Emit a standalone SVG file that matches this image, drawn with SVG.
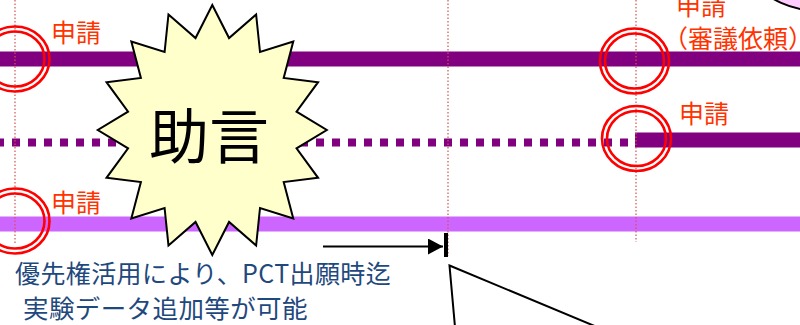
<svg xmlns="http://www.w3.org/2000/svg" width="800" height="325" viewBox="0 0 800 325">
<defs>
<style>
.vl{stroke:#D85050;stroke-width:1.2;stroke-dasharray:1.5 2;fill:none}
.ring{fill:none;stroke:#FF0000;stroke-width:2.6}
.lbl{font-family:"Noto Sans CJK JP","Noto Sans",sans-serif;font-size:25px;fill:#FF3300}
.note{font-family:"Noto Sans CJK JP","Noto Sans",sans-serif;font-size:25.5px;letter-spacing:0.4px;fill:#1F497D}
.bar{stroke-width:15;fill:none}
</style>
<marker id="ah" viewBox="0 0 15 16" refX="15" refY="8" markerWidth="15" markerHeight="16" markerUnits="userSpaceOnUse" orient="auto">
<path d="M0,0 L15,8 L0,16 Z" fill="#000"/>
</marker>
</defs>
<rect width="800" height="325" fill="#FFFFFF"/>
<ellipse id="pink-ellipse" cx="830" cy="-20" rx="70" ry="32" fill="#FFCCFF" stroke="#000" stroke-width="2"/>
<g id="timelines">
<line class="bar" x1="0" y1="59" x2="800" y2="59" stroke="#800080"/>
<line x1="-4" y1="142.5" x2="628" y2="142.5" stroke="#800080" stroke-width="8" stroke-dasharray="8 8"/>
<line class="bar" x1="635" y1="140" x2="800" y2="140" stroke="#800080"/>
<line class="bar" x1="0" y1="224" x2="800" y2="224" stroke="#CC66FF"/>
</g>
<g id="guides">
<line class="vl" x1="15" y1="0" x2="15" y2="245"/>
<line class="vl" x1="448" y1="0" x2="448" y2="256"/>
<line class="vl" x1="636" y1="0" x2="636" y2="242"/>
</g>
<g id="ring-1"><ellipse class="ring" cx="15" cy="59" rx="34.5" ry="32.5"/><ellipse class="ring" cx="15" cy="59" rx="29.5" ry="27.5"/></g>
<g id="ring-2"><ellipse class="ring" cx="15" cy="221" rx="34.5" ry="32.5"/><ellipse class="ring" cx="15" cy="221" rx="29.5" ry="27.5"/></g>
<g id="ring-3"><ellipse class="ring" cx="634.5" cy="61" rx="34.5" ry="32.5"/><ellipse class="ring" cx="634.5" cy="61" rx="29.5" ry="27.5"/></g>
<g id="ring-4"><ellipse class="ring" cx="636.5" cy="138.5" rx="34.5" ry="32.5"/><ellipse class="ring" cx="636.5" cy="138.5" rx="29.5" ry="27.5"/></g>
<g id="labels">
<text class="lbl" x="51" y="41.5">申請</text>
<text class="lbl" x="51" y="211.5">申請</text>
<text class="lbl" x="679" y="122.5">申請</text>
<text class="lbl" x="676" y="15">申請</text>
<text class="lbl" x="663" y="48">（審議依頼）</text>
</g>
<g id="advice">
<polygon transform="translate(212.3,130)" fill="#FFFFCC" stroke="#000" stroke-width="2" stroke-linejoin="miter" points="0,-125 16.75,-91.95 43.82,-115.49 47.71,-77.95 80.96,-88.39 71.40,-52.08 105.78,-47.84 84.23,-18.29 114.5,0 84.23,18.29 105.78,47.84 71.40,52.08 80.96,88.39 47.71,77.95 43.82,115.49 16.75,91.95 0,125 -16.75,91.95 -43.82,115.49 -47.71,77.95 -80.96,88.39 -71.40,52.08 -105.78,47.84 -84.23,18.29 -114.5,0 -84.23,-18.29 -105.78,-47.84 -71.40,-52.08 -80.96,-88.39 -47.71,-77.95 -43.82,-115.49 -16.75,-91.95"/>
<text x="209" y="159" text-anchor="middle" font-family="'Noto Sans CJK JP','Noto Sans',sans-serif" font-size="60" fill="#000">助言</text>
</g>
<g id="connectors">
<line x1="323" y1="246.5" x2="443" y2="246.5" stroke="#000" stroke-width="2" marker-end="url(#ah)"/>
<rect x="444" y="233" width="4" height="24" fill="#000"/>
</g>
<g id="note">
<text class="note" x="15" y="282.5" style="font-size:25px">優先権活用により、PCT出願時迄</text>
<text class="note" x="23" y="317.5">実験データ追加等が可能</text>
</g>
<g id="callout">
<polygon points="449.5,265.5 597,327 455,327" fill="#FFFFFF" stroke="#000" stroke-width="2"/>
</g>
</svg>
